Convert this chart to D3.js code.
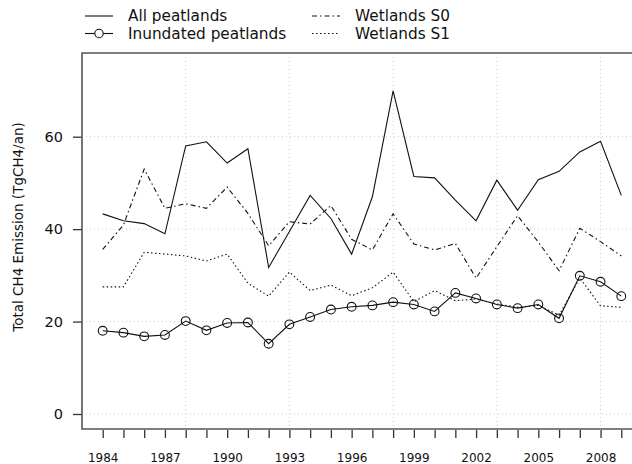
<!DOCTYPE html>
<html>
<head>
<meta charset="utf-8">
<script src="https://cdn.jsdelivr.net/npm/d3@7"></script>
<style>
  body { margin: 0; background: #fff; }
  text { font-family: "DejaVu Sans", sans-serif; fill: #111; }
</style>
</head>
<body>
<svg id="chart" width="632" height="464"></svg>
<script>
// Data (TgCH4/an)
const years = d3.range(1984, 2010);
const allPeatlands = [43.3, 41.8, 41.2, 39.0, 58.0, 58.9, 54.3, 57.4, 31.7, 39.5, 47.3, 42.3, 34.6,
  47.0, 69.9, 51.4, 51.1, 46.3, 41.8, 50.6, 44.1, 50.7, 52.5, 56.7, 59.0, 47.3];
const inundated = [18.0, 17.6, 16.8, 17.1, 20.1, 18.1, 19.7, 19.8, 15.2, 19.4, 21.0, 22.6, 23.2,
  23.5, 24.2, 23.7, 22.2, 26.2, 25.0, 23.7, 22.9, 23.7, 20.7, 29.9, 28.6, 25.5];
const wetlandsS0 = [35.6, 40.9, 53.0, 44.5, 45.5, 44.5, 49.1, 43.4, 36.4, 41.6, 41.1, 45.1, 37.8,
  35.5, 43.3, 36.8, 35.5, 36.9, 29.4, 36.2, 42.9, 37.2, 31.0, 40.2, 37.3, 34.2];
const wetlandsS1 = [27.5, 27.5, 35.0, 34.6, 34.2, 33.1, 34.6, 28.3, 25.5, 30.7, 26.7, 27.9, 25.6,
  27.3, 30.7, 24.3, 26.7, 24.5, 24.9, 23.8, 23.1, 23.5, 21.4, 29.4, 23.4, 23.1];
const yTicks = [0, 20, 40, 60];
const xLabelYears = [1984, 1987, 1990, 1993, 1996, 1999, 2002, 2005, 2008];
const gridYears = [1988, 1993, 1998, 2003, 2008];

const series = [
  { name: 'All peatlands', values: allPeatlands, dash: null, marker: false },
  { name: 'Inundated peatlands', values: inundated, dash: null, marker: true },
  { name: 'Wetlands S0', values: wetlandsS0, dash: '5,3,1.5,3', marker: false },
  { name: 'Wetlands S1', values: wetlandsS1, dash: '1.5,2.5', marker: false }
];

const box = { left: 82, top: 53, right: 640, bottom: 429 };

const svg = d3.select('#chart');

const x = d3.scaleLinear().domain([1984, 2009]).range([102.7, 621.3]);
const y = d3.scaleLinear().domain([0, 60]).range([414, 136.7]);

// gridlines
const grid = svg.append('g').attr('stroke', '#ccc').attr('stroke-dasharray', '1,3').attr('stroke-width', 1);
grid.selectAll('.gx').data(gridYears).join('line')
  .attr('x1', d => x(d)).attr('x2', d => x(d))
  .attr('y1', box.top).attr('y2', box.bottom);
grid.selectAll('.gy').data(yTicks).join('line')
  .attr('x1', box.left).attr('x2', box.right)
  .attr('y1', d => y(d)).attr('y2', d => y(d));

// axes
const xAxis = d3.axisBottom(x).tickValues(years).tickSize(8).tickPadding(15)
  .tickFormat(d => xLabelYears.includes(d) ? d : '');
const xAxisG = svg.append('g').attr('transform', `translate(0,${box.bottom + 1})`).call(xAxis);
xAxisG.select('.domain').remove();
xAxisG.selectAll('line').attr('stroke', '#333').attr('stroke-width', 1.3);
xAxisG.selectAll('text').attr('font-size', 12).attr('font-family', 'DejaVu Sans').attr('fill', '#111');

const yAxis = d3.axisLeft(y).tickValues(yTicks).tickSize(9).tickPadding(10);
const yAxisG = svg.append('g').attr('transform', `translate(${box.left},0)`).call(yAxis);
yAxisG.select('.domain').remove();
yAxisG.selectAll('line').attr('stroke', '#333').attr('stroke-width', 1.3);
yAxisG.selectAll('text').attr('font-size', 14.5).attr('font-family', 'DejaVu Sans').attr('fill', '#111');

// box
svg.append('path')
  .attr('d', `M${box.right},${box.top}H${box.left}V${box.bottom}H${box.right}`)
  .attr('fill', 'none').attr('stroke', '#555').attr('stroke-width', 1.6);

// y title
svg.append('text')
  .attr('transform', 'translate(23,227) rotate(-90)')
  .attr('text-anchor', 'middle')
  .attr('font-size', 13.5)
  .text('Total CH4 Emission (TgCH4/an)');

// series lines
const line = d3.line().x((d, i) => x(years[i])).y(d => y(d));
series.forEach(s => {
  svg.append('path')
    .datum(s.values)
    .attr('d', line)
    .attr('fill', 'none')
    .attr('stroke', '#111')
    .attr('stroke-width', 1.1)
    .attr('stroke-dasharray', s.dash);
  if (s.marker) {
    svg.selectAll(null).data(s.values).join('circle')
      .attr('cx', (d, i) => x(years[i]))
      .attr('cy', d => y(d))
      .attr('r', 4.4)
      .attr('fill', 'none')
      .attr('stroke', '#111')
      .attr('stroke-width', 1.1);
  }
});

// legend
const legendPos = [[85, 16], [85, 33.5], [312, 16], [312, 33.5]];
series.forEach((s, i) => {
  const [lx, ly] = legendPos[i];
  const g = svg.append('g').attr('transform', `translate(${lx},${ly})`);
  g.append('line').attr('x1', 0).attr('x2', 28).attr('y1', 0).attr('y2', 0)
    .attr('stroke', '#111').attr('stroke-width', 1.1).attr('stroke-dasharray', s.dash);
  if (s.marker) {
    g.append('circle').attr('cx', 14).attr('cy', 0).attr('r', 4.2)
      .attr('fill', '#fff').attr('stroke', '#111').attr('stroke-width', 1.1);
  }
  g.append('text').attr('x', 43).attr('y', 0).attr('dy', '0.35em')
    .attr('font-size', 15.3).text(s.name);
});
</script>
</body>
</html>
